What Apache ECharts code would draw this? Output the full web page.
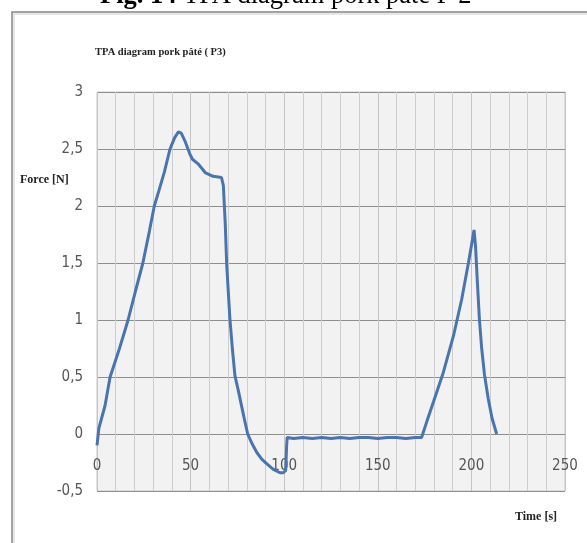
<!DOCTYPE html>
<html>
<head>
<meta charset="utf-8">
<script src="https://cdn.jsdelivr.net/npm/echarts@6/dist/echarts.min.js"></script>
<style>html,body{margin:0;padding:0;background:#fff;}#c{width:587px;height:543px;}</style>
</head>
<body>
<div id="c"></div>
<script>
var timeS = [0, 1, 4.3, 7, 12, 16.6, 20.5, 24.5, 28, 30.6, 33, 36, 39, 41.5, 43.5, 45, 47, 49.5, 51, 54, 58, 62, 66.5, 67.5, 68.5, 69.3, 71, 72.3, 73.7, 75.5, 77.3, 79, 80.5, 83, 85.3, 88, 90.6, 94.2, 97.8, 99.5, 100.8, 101.3, 101.6, 105, 110, 115, 120, 125, 130, 135, 140, 145, 150, 155, 160, 165, 170, 173.4, 176, 179.7, 185, 190.4, 194.8, 198.4, 200.3, 201.4, 202.2, 203.2, 204.3, 205.5, 207, 209, 211, 213.5];
var forceN = [-0.1, 0.05, 0.25, 0.5, 0.75, 1.0, 1.25, 1.5, 1.78, 2.0, 2.13, 2.3, 2.5, 2.6, 2.65, 2.64, 2.57, 2.46, 2.41, 2.37, 2.29, 2.26, 2.25, 2.18, 1.85, 1.48, 1.01, 0.75, 0.51, 0.38, 0.24, 0.11, 0.0, -0.09, -0.16, -0.22, -0.26, -0.31, -0.34, -0.34, -0.32, -0.1, -0.03, -0.04, -0.03, -0.04, -0.03, -0.04, -0.03, -0.04, -0.03, -0.03, -0.04, -0.03, -0.03, -0.04, -0.03, -0.03, 0.1, 0.28, 0.54, 0.86, 1.18, 1.5, 1.68, 1.79, 1.65, 1.33, 1.0, 0.75, 0.52, 0.31, 0.14, 0.0];
var chartTitle = 'TPA diagram pork pâté ( P3)';
var captionBold = 'Fig. 14';
var captionRest = ' TPA diagram pork pate P 2';
var yName = 'Force [N]';
var xName = 'Time [s]';

var pts = timeS.map(function (t, i) { return [t, forceN[i]]; });
var chart = echarts.init(document.getElementById('c'), null, {renderer: 'canvas'});
var serif = '"Liberation Serif", "DejaVu Serif", serif';
var lblFont = '"Liberation Sans Narrow", "DejaVu Sans Condensed", "Liberation Sans", sans-serif';
chart.setOption({
  animation: false,
  backgroundColor: '#fff',
  title: {
    text: chartTitle, left: 90, top: 42,
    textStyle: {fontFamily: serif, fontSize: 10.5, fontWeight: 'bold', color: '#222'}
  },
  grid: {left: 97, right: 22, top: 92, bottom: 52, show: true, backgroundColor: '#f2f2f2', borderColor: '#c8c8c8', borderWidth: 1},
  xAxis: {
    type: 'value', min: 0, max: 250, interval: 50,
    offset: -34,
    axisLine: {show: false},
    axisTick: {show: false},
    axisLabel: {margin: 2, fontSize: 15, color: '#555', fontFamily: lblFont},
    splitLine: {show: true, lineStyle: {color: '#c4c4c4', width: 1}},
    minorTick: {show: false, splitNumber: 5},
    minorSplitLine: {show: true, lineStyle: {color: '#cdcdcd', width: 1}}
  },
  yAxis: {
    type: 'value', min: -0.5, max: 3, interval: 0.5,
    axisLine: {show: false},
    axisTick: {show: false},
    axisLabel: {margin: 14, fontSize: 15, color: '#555', fontFamily: lblFont,
      formatter: function (v) { return String(v).replace('.', ','); }},
    splitLine: {show: true, lineStyle: {color: '#8e8e8e', width: 1}}
  },
  series: [{
    type: 'line', data: pts, showSymbol: false, smooth: false,
    lineStyle: {color: '#4a74ad', width: 3}
  }],
  graphic: [
    {type: 'rect', shape: {x: 12, y: 12, width: 620, height: 620}, z: -10,
      style: {fill: 'rgba(0,0,0,0)', stroke: '#858585', lineWidth: 1.5}},
    {type: 'rect', shape: {x: 14, y: 14, width: 620, height: 620}, z: -10,
      style: {fill: 'rgba(0,0,0,0)', stroke: '#e6e6e6', lineWidth: 2}},
    {type: 'text', left: 100, top: -17, z: 10,
      style: {text: '{b|' + captionBold + '}{r|' + captionRest + '}', rich: {
        b: {fontFamily: serif, fontSize: 26.5, fontWeight: 'bold', fill: '#000'},
        r: {fontFamily: serif, fontSize: 26.5, fill: '#000'}}}},
    {type: 'text', left: 20, top: 174,
      style: {text: yName, fontFamily: serif, fontSize: 12, fontWeight: 'bold', fill: '#222'}},
    {type: 'text', left: 515, top: 511,
      style: {text: xName, fontFamily: serif, fontSize: 12, fontWeight: 'bold', fill: '#222'}}
  ]
});
</script>
</body>
</html>
